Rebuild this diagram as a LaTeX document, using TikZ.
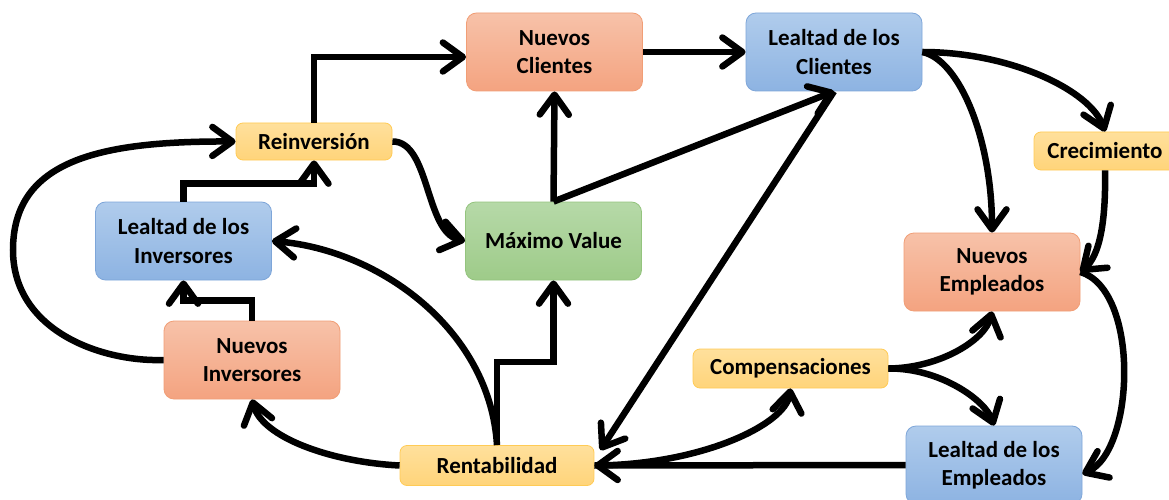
\documentclass[tikz,border=0pt]{standalone}
\usepackage{fontspec}
\setmainfont{Carlito}
\usetikzlibrary{arrows.meta,calc}
\definecolor{orT}{HTML}{F7C2A9}
\definecolor{orB}{HTML}{F4A380}
\definecolor{orD}{HTML}{F19E76}
\definecolor{blT}{HTML}{B0CCEC}
\definecolor{blB}{HTML}{8DB3E2}
\definecolor{blD}{HTML}{7EA6D9}
\definecolor{grT}{HTML}{B6D9A8}
\definecolor{grB}{HTML}{9ECB89}
\definecolor{grD}{HTML}{94C47E}
\definecolor{yeT}{HTML}{FFE09C}
\definecolor{yeB}{HTML}{FFD47A}
\definecolor{yeD}{HTML}{FFCB55}
\begin{document}
\begin{tikzpicture}[x=1pt,y=-1pt,
  box/.style={rounded corners=10pt, line width=0.8pt, inner sep=0pt, align=center,
    font=\fontsize{23}{28.5}\selectfont\bfseries, text=black},
  bigbox/.style={box, minimum width=176pt, minimum height=78pt},
  smallbox/.style={box, rounded corners=7pt},
  ored/.style={draw=orD, top color=orT, bottom color=orB},
  blu/.style={draw=blD, top color=blT, bottom color=blB},
  grn/.style={draw=grD, top color=grT, bottom color=grB},
  yel/.style={draw=yeD, top color=yeT, bottom color=yeB},
  arr/.style={line width=6.5pt, -{Straight Barb[length=20pt,width=29pt,round]}}
]
\useasboundingbox (0,0) rectangle (1169,500);
\fill[white] (0,0) rectangle (1169,500);

\node[bigbox, ored] (NC) at (554.5,52) {Nuevos\\Clientes};
\node[bigbox, blu] (LC) at (834,52) {Lealtad de los\\Clientes};
\node[smallbox, yel, minimum width=156pt, minimum height=37pt] (R) at (314,141.5) {Reinversión};
\node[smallbox, yel, minimum width=142pt, minimum height=38pt] (Cr) at (1105,151) {Crecimiento};
\node[bigbox, blu] (LI) at (183.5,241) {Lealtad de los\\Inversores};
\node[bigbox, grn] (MV) at (553.5,241) {Máximo Value};
\node[bigbox, ored] (NE) at (992,272) {Nuevos\\Empleados};
\node[bigbox, ored] (NI) at (252,360) {Nuevos\\Inversores};
\node[smallbox, yel, minimum width=195pt, minimum height=39pt] (Co) at (790.5,368.5) {Compensaciones};
\node[smallbox, yel, minimum width=194pt, minimum height=40pt] (Re) at (497,465.5) {Rentabilidad};
\node[bigbox, blu] (LE) at (994,465) {Lealtad de los\\Empleados};

% connectors
\draw[arr] (R.north) |- ([yshift=-5pt]NC.west);
\draw[arr] (NC.east) -- (LC.west);
\draw[arr] (MV.north) -- (NC.south);
\draw[arr] (MV.north) -- (LC.south);
\draw[arr] (LC.south) -- ([shift={(6pt,-5pt)}]Re.north east);
\draw[arr] (R.east) .. controls (430,141) and (425,232) .. (MV.west);
\draw[arr] (LI.north) |- ([yshift=-23pt]R.south) -- (R.south);
\draw[arr] (NI.north) |- ([yshift=-20pt]LI.south) -- (LI.south);
\draw[arr] (NI.west) .. controls (100,362) and (13,330) .. (13,250)
                     .. controls (13,160) and (100,141) .. (R.west);
\draw[arr] (Re.north) .. controls (490,330) and (380,250) .. (LI.east);
\draw[arr] (Re.north) -- ++(0,-83) -| (MV.south);
\draw[arr] (Re.west) .. controls (330,462) and (262,437) .. (NI.south);
\draw[arr] (LE.west) -- (Re.east);
\draw[arr] (Re.east) .. controls (700,465) and (785,425) .. (Co.south);
\draw[arr] (Co.east) .. controls (940,368) and (985,340) .. (NE.south);
\draw[arr] (Co.east) .. controls (940,368) and (985,400) .. (LE.north);
\draw[arr] (LC.east) .. controls (1010,52) and (1090,90) .. (Cr.north);
\draw[arr] (LC.east) .. controls (960,60) and (992,140) .. (NE.north);
\draw[arr] (Cr.south) .. controls (1106,220) and (1100,255) .. (NE.east);
\draw[arr] (NE.east) .. controls (1140,290) and (1135,450) .. ([yshift=-9pt]LE.east);
\end{tikzpicture}
\end{document}
